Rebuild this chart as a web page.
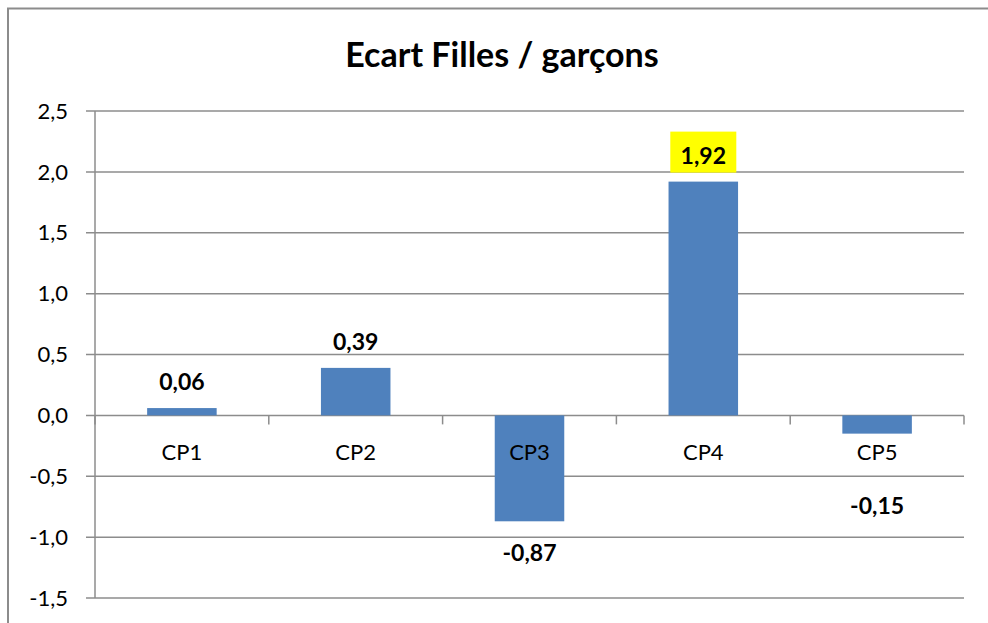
<!DOCTYPE html>
<html>
<head>
<meta charset="utf-8">
<script src="https://cdn.jsdelivr.net/npm/d3@7"></script>
<style>
  body { margin: 0; background: #fff; }
  svg { display: block; font-family: Lato, 'Open Sans', sans-serif; }
</style>
</head>
<body>
<div id="chart"></div>
<script>
const categories = ['CP1', 'CP2', 'CP3', 'CP4', 'CP5'];
const values = [0.06, 0.39, -0.87, 1.92, -0.15];
const yTicks = [2.5, 2.0, 1.5, 1.0, 0.5, 0.0, -0.5, -1.0, -1.5];
const highlighted = 'CP4';

const drawChart = () => {
  let width = 988;
  let height = 623;
  let margin = { top: 111, left: 95, right: 24, bottom: 25 };

  let svg = d3
    .select('#chart')
    .append('svg')
    .attr('width', width)
    .attr('height', height);

  // Outer chart frame (only top and left edges are inside the picture)
  svg
    .append('rect')
    .attr('x', 8)
    .attr('y', 8.5)
    .attr('width', width + 20)
    .attr('height', height + 20)
    .attr('fill', 'none')
    .attr('stroke', '#8c8c8c')
    .attr('stroke-width', 2);

  svg
    .append('text')
    .attr('x', 502)
    .attr('y', 67)
    .attr('text-anchor', 'middle')
    .attr('font-size', 34)
    .attr('font-weight', 'bold')
    .attr('fill', '#000')
    .text('Ecart Filles / garçons');

  let x = d3
    .scaleBand()
    .domain(categories)
    .range([margin.left, width - margin.right])
    .paddingInner(0.6)
    .paddingOuter(0.3);

  let y = d3
    .scaleLinear()
    .domain([-1.5, 2.5])
    .range([height - margin.bottom, margin.top]);

  let fmt = (v) => d3.format('.1f')(v).replace('.', ',').replace('−', '-');

  // Gridlines, with a short tick sticking out left of the axis
  svg
    .append('g')
    .selectAll('line')
    .data(yTicks)
    .enter()
    .append('line')
    .attr('x1', margin.left - 9)
    .attr('x2', width - margin.right)
    .attr('y1', (d) => y(d))
    .attr('y2', (d) => y(d))
    .attr('stroke', '#8c8c8c')
    .attr('stroke-width', 1.5);

  svg
    .append('g')
    .selectAll('text')
    .data(yTicks)
    .enter()
    .append('text')
    .attr('x', 68)
    .attr('y', (d) => y(d))
    .attr('dy', '0.35em')
    .attr('text-anchor', 'end')
    .attr('font-size', 22)
    .attr('fill', '#000')
    .text(fmt);

  // Vertical axis line
  svg
    .append('line')
    .attr('x1', margin.left)
    .attr('x2', margin.left)
    .attr('y1', y(2.5))
    .attr('y2', y(-1.5))
    .attr('stroke', '#8c8c8c')
    .attr('stroke-width', 1.5);

  // Category tick marks on the zero line
  let bounds = categories.map((c) => x(c) - (x.step() - x.bandwidth()) / 2);
  bounds.push(width - margin.right);
  svg
    .append('g')
    .selectAll('line')
    .data(bounds)
    .enter()
    .append('line')
    .attr('x1', (d) => d)
    .attr('x2', (d) => d)
    .attr('y1', y(0))
    .attr('y2', y(0) + 9)
    .attr('stroke', '#8c8c8c')
    .attr('stroke-width', 1.5);

  // Bars
  svg
    .append('g')
    .selectAll('rect')
    .data(values)
    .enter()
    .append('rect')
    .attr('x', (d, i) => x(categories[i]))
    .attr('width', x.bandwidth())
    .attr('y', (d) => y(Math.max(0, d)))
    .attr('height', (d) => Math.abs(y(d) - y(0)))
    .attr('fill', '#4f81bd');

  // Category labels
  svg
    .append('g')
    .selectAll('text')
    .data(categories)
    .enter()
    .append('text')
    .attr('x', (d) => x(d) + x.bandwidth() / 2)
    .attr('y', y(0) + 45)
    .attr('text-anchor', 'middle')
    .attr('font-size', 22)
    .attr('fill', '#000')
    .text((d) => d);

  // Value labels
  let labelY = (d, i) => {
    if (categories[i] === 'CP5') return y(d) + 80;
    return d >= 0 ? y(d) - 18 : y(d) + 40;
  };
  let fmtVal = (v) => d3.format('.2f')(v).replace('.', ',').replace('−', '-');

  let labels = svg
    .append('g')
    .selectAll('g')
    .data(values)
    .enter()
    .append('g');

  labels
    .filter((d, i) => categories[i] === highlighted)
    .append('rect')
    .attr('x', x(highlighted) + x.bandwidth() / 2 - 33)
    .attr('y', (d) => y(d) - 50)
    .attr('width', 66)
    .attr('height', 41)
    .attr('fill', '#ffff00');

  labels
    .append('text')
    .attr('x', (d, i) => x(categories[i]) + x.bandwidth() / 2)
    .attr('y', labelY)
    .attr('text-anchor', 'middle')
    .attr('font-size', 23)
    .attr('font-weight', 'bold')
    .attr('fill', '#000')
    .text(fmtVal);
};

drawChart();
</script>
</body>
</html>
